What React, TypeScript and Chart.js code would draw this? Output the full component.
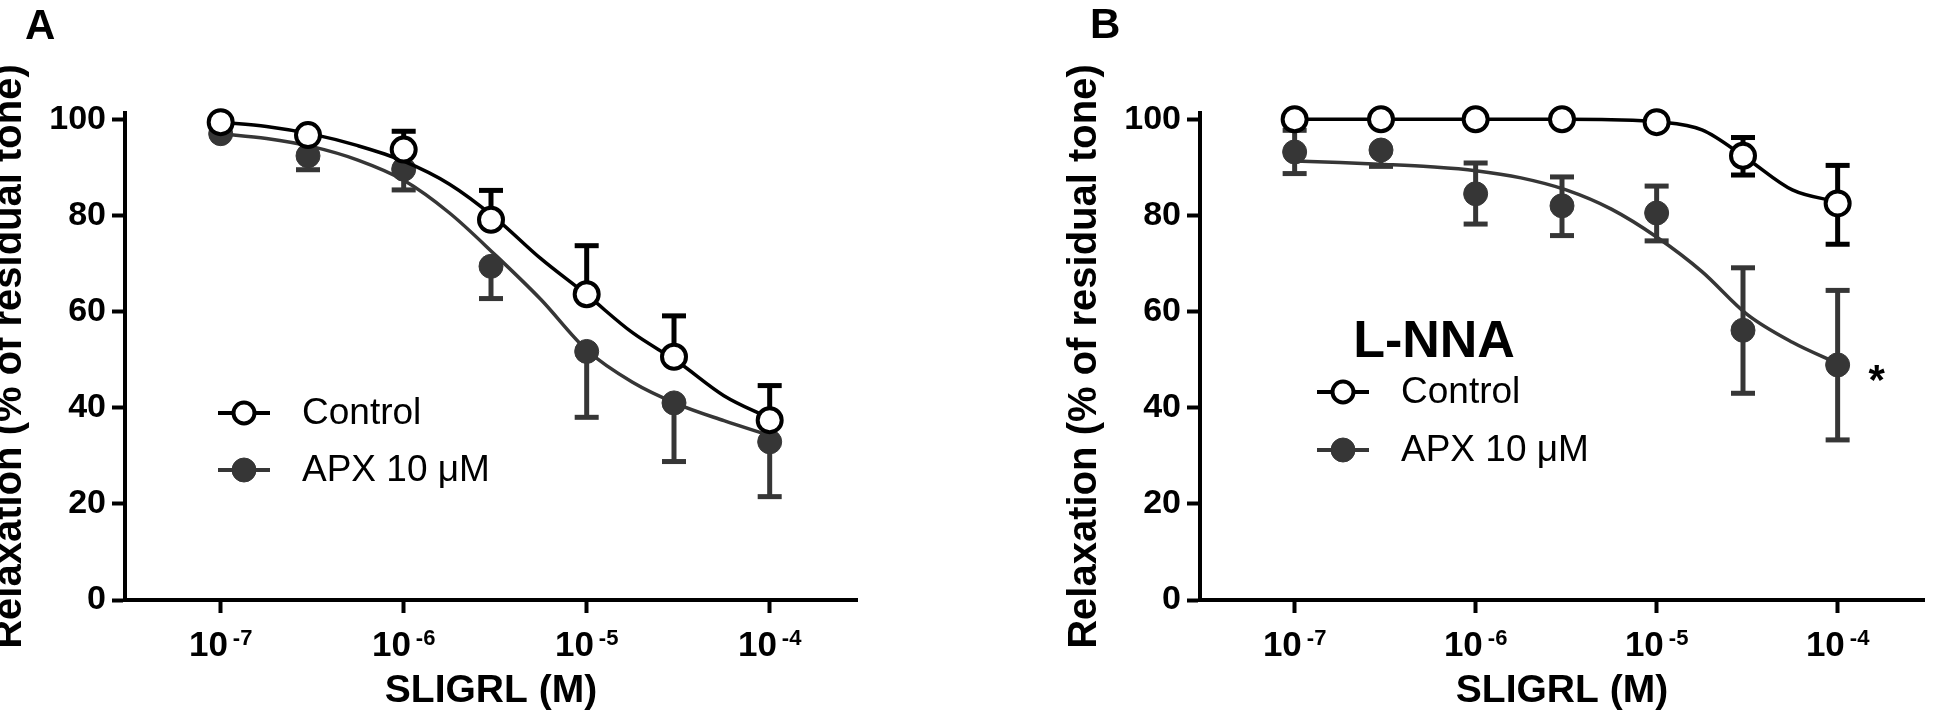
import React, { useEffect, useRef } from "react";
import { Chart, registerables } from "chart.js";

Chart.register(...registerables);

// ---------- data ----------
const DOSES = [1e-7, 3e-7, 1e-6, 3e-6, 1e-5, 3e-5, 1e-4];
const DECADE_TICKS = [1e-7, 1e-6, 1e-5, 1e-4];
const DECADE_EXPONENTS = ["-7", "-6", "-5", "-4"];
const Y_TICKS = [0, 20, 40, 60, 80, 100];
const CURVE_X = [1e-7, 1.78e-7, 3.16e-7, 5.62e-7, 1e-6, 1.78e-6, 3.16e-6, 5.62e-6, 1e-5, 1.78e-5, 3.16e-5, 5.62e-5, 1e-4];

// Panel A
const A_CONTROL = [99.4, 96.7, 93.7, 79.1, 63.6, 50.6, 37.4];
const A_CONTROL_ERR_UP = [0, 0, 3.8, 6.1, 10.1, 8.5, 7.2];
const A_CONTROL_ERR_DOWN = [0, 0, 0, 0, 0, 0, 0];
const A_APX = [97.0, 92.4, 89.6, 69.4, 51.7, 41.0, 32.9];
const A_APX_ERR_UP = [0, 0, 0, 0, 0, 0, 0];
const A_APX_ERR_DOWN = [0, 2.9, 4.3, 6.7, 13.7, 12.2, 11.4];
const A_CONTROL_FIT = [99.4, 98.5, 96.9, 94.5, 91.3, 86.5, 79.5, 71.0, 63.5, 55.6, 49.5, 42.5, 37.8];
const A_APX_FIT = [97.0, 96.0, 94.3, 91.5, 87.3, 80.5, 71.8, 62.5, 52.0, 45.3, 40.7, 37.3, 34.2];

// Panel B (L-NNA)
const B_CONTROL = [100, 100, 100, 100, 99.4, 92.4, 82.5];
const B_CONTROL_ERR_UP = [0, 0, 0, 0, 0, 3.8, 7.9];
const B_CONTROL_ERR_DOWN = [0, 0, 0, 0, 0, 4.0, 8.5];
const B_APX = [93.2, 93.6, 84.5, 82.0, 80.5, 56.1, 48.9];
const B_APX_ERR_UP = [4.5, 0, 6.4, 6.0, 5.6, 13.0, 15.5];
const B_APX_ERR_DOWN = [4.5, 3.4, 6.3, 6.2, 5.8, 13.1, 15.6];
const B_CONTROL_FIT = [100, 100, 100, 100, 100, 100, 100, 99.9, 99.5, 97.8, 91.8, 85.3, 82.8];
const B_APX_FIT = [91.3, 91.0, 90.6, 90.1, 89.3, 87.8, 85.3, 81.3, 75.5, 68.3, 59.4, 53.6, 49.2];

const SERIES_LABELS = ["Control", "APX 10 \u03bcM"];
const FONT = '"Liberation Sans", Arial, Helvetica, sans-serif';
const BLACK = "#000000";
const GREY = "#363636";

type PanelCfg = {
  letter: string;
  letterPos: { x: number; y: number };
  canvasLeft: number;
  width: number;
  padRight: number;
  control: number[];
  controlUp: number[];
  controlDown: number[];
  controlFit: number[];
  apx: number[];
  apxUp: number[];
  apxDown: number[];
  apxFit: number[];
  legend: { dx: number; dy: number; gap: number };
  heading?: { text: string; dx: number; dy: number };
  star?: { index: number; dx: number; dy: number };
};

const PANELS: PanelCfg[] = [
  {
    letter: "A",
    letterPos: { x: 45, y: 39 },
    canvasLeft: -20,
    width: 900,
    padRight: 23,
    control: A_CONTROL,
    controlUp: A_CONTROL_ERR_UP,
    controlDown: A_CONTROL_ERR_DOWN,
    controlFit: A_CONTROL_FIT,
    apx: A_APX,
    apxUp: A_APX_ERR_UP,
    apxDown: A_APX_ERR_DOWN,
    apxFit: A_APX_FIT,
    legend: { dx: 119, dy: 300, gap: 57 },
  },
  {
    letter: "B",
    letterPos: { x: 35, y: 38 },
    canvasLeft: 1055,
    width: 885,
    padRight: 9,
    control: B_CONTROL,
    controlUp: B_CONTROL_ERR_UP,
    controlDown: B_CONTROL_ERR_DOWN,
    controlFit: B_CONTROL_FIT,
    apx: B_APX,
    apxUp: B_APX_ERR_UP,
    apxDown: B_APX_ERR_DOWN,
    apxFit: B_APX_FIT,
    legend: { dx: 143, dy: 279, gap: 58 },
    heading: { text: "L-NNA", dx: 234, dy: 244 },
    star: { index: 6, dx: 39, dy: 10 },
  },
];

function makeConfig(p: PanelCfg): any {
  const pts = (vals: number[]) => DOSES.map((x, i) => ({ x, y: vals[i] }));
  const fit = (vals: number[]) => CURVE_X.map((x, i) => ({ x, y: vals[i] }));

  const errorBars = {
    id: "errorBars",
    beforeDatasetsDraw(chart: any) {
      const { ctx } = chart;
      const xs = chart.scales.x;
      const ys = chart.scales.y;
      const draw = (vals: number[], up: number[], down: number[], color: string) => {
        ctx.save();
        ctx.strokeStyle = color;
        ctx.fillStyle = color;
        ctx.lineWidth = 5;
        DOSES.forEach((d, i) => {
          const px = xs.getPixelForValue(d);
          const py = ys.getPixelForValue(vals[i]);
          const ends: number[] = [];
          if (up[i] > 0) ends.push(vals[i] + up[i]);
          if (down[i] > 0) ends.push(vals[i] - down[i]);
          ends.forEach((v) => {
            const ey = ys.getPixelForValue(v);
            ctx.beginPath();
            ctx.moveTo(px, py);
            ctx.lineTo(px, ey);
            ctx.stroke();
            ctx.fillRect(px - 12, ey - 2.5, 24, 5);
          });
        });
        ctx.restore();
      };
      draw(p.apx, p.apxUp, p.apxDown, GREY);
      draw(p.control, p.controlUp, p.controlDown, BLACK);
    },
  };

  const extras = {
    id: "extras",
    afterDraw(chart: any) {
      const { ctx, chartArea: ca } = chart;
      const xs = chart.scales.x;
      const ys = chart.scales.y;
      ctx.save();
      ctx.fillStyle = BLACK;
      ctx.textBaseline = "alphabetic";
      ctx.textAlign = "left";
      // x tick labels 10^n
      DECADE_TICKS.forEach((v, i) => {
        const px = xs.getPixelForValue(v);
        ctx.font = `bold 35px ${FONT}`;
        const w1 = ctx.measureText("10").width;
        ctx.font = `bold 22px ${FONT}`;
        const w2 = ctx.measureText(DECADE_EXPONENTS[i]).width;
        const gap = 5;
        const x0 = px - (w1 + gap + w2) / 2;
        ctx.font = `bold 35px ${FONT}`;
        ctx.fillText("10", x0, ca.bottom + 56);
        ctx.font = `bold 22px ${FONT}`;
        ctx.fillText(DECADE_EXPONENTS[i], x0 + w1 + gap, ca.bottom + 45);
      });
      // panel letter
      ctx.font = `bold 42px ${FONT}`;
      ctx.fillText(p.letter, p.letterPos.x, p.letterPos.y);
      // heading
      if (p.heading) {
        ctx.font = `bold 52px ${FONT}`;
        ctx.textAlign = "center";
        ctx.fillText(p.heading.text, ca.left + p.heading.dx, ca.top + p.heading.dy);
        ctx.textAlign = "left";
      }
      // legend
      const lx = ca.left + p.legend.dx;
      const rows = [
        { y: ca.top + p.legend.dy, line: BLACK, fill: "#ffffff", stroke: BLACK, r: 10.5, bw: 4 },
        { y: ca.top + p.legend.dy + p.legend.gap, line: GREY, fill: GREY, stroke: GREY, r: 12, bw: 1 },
      ];
      rows.forEach((r, i) => {
        ctx.strokeStyle = r.line;
        ctx.lineWidth = 4;
        ctx.beginPath();
        ctx.moveTo(lx - 26, r.y);
        ctx.lineTo(lx + 26, r.y);
        ctx.stroke();
        ctx.beginPath();
        ctx.arc(lx, r.y, r.r, 0, Math.PI * 2);
        ctx.fillStyle = r.fill;
        ctx.fill();
        ctx.lineWidth = r.bw;
        ctx.strokeStyle = r.stroke;
        ctx.stroke();
        ctx.fillStyle = BLACK;
        ctx.font = `37px ${FONT}`;
        ctx.textBaseline = "middle";
        ctx.fillText(SERIES_LABELS[i], lx + 58, r.y + 1);
        ctx.textBaseline = "alphabetic";
      });
      // significance star
      if (p.star) {
        const sx = xs.getPixelForValue(DOSES[p.star.index]) + p.star.dx;
        const sy = ys.getPixelForValue(p.apx[p.star.index]) + p.star.dy;
        ctx.font = `bold 42px ${FONT}`;
        ctx.textAlign = "center";
        ctx.textBaseline = "middle";
        ctx.fillStyle = BLACK;
        ctx.fillText("*", sx, sy + 8);
      }
      ctx.restore();
    },
  };

  return {
    type: "line",
    data: {
      datasets: [
        {
          label: "Control",
          data: pts(p.control),
          showLine: false,
          pointRadius: 12,
          pointBackgroundColor: "#ffffff",
          pointBorderColor: BLACK,
          pointBorderWidth: 4,
          clip: false,
          order: 0,
        },
        {
          label: "Control fit",
          data: fit(p.controlFit),
          borderColor: BLACK,
          borderWidth: 3.5,
          pointRadius: 0,
          cubicInterpolationMode: "monotone",
          fill: false,
          clip: false,
          order: 1,
        },
        {
          label: "APX",
          data: pts(p.apx),
          showLine: false,
          pointRadius: 12,
          pointBackgroundColor: GREY,
          pointBorderColor: GREY,
          pointBorderWidth: 1,
          clip: false,
          order: 2,
        },
        {
          label: "APX fit",
          data: fit(p.apxFit),
          borderColor: GREY,
          borderWidth: 3.5,
          pointRadius: 0,
          cubicInterpolationMode: "monotone",
          fill: false,
          clip: false,
          order: 3,
        },
      ],
    },
    options: {
      animation: false,
      responsive: false,
      devicePixelRatio: 1,
      layout: { padding: { top: 113, right: p.padRight, bottom: 0, left: 0 } },
      plugins: { legend: { display: false }, tooltip: { enabled: false } },
      scales: {
        x: {
          type: "logarithmic",
          min: 3e-8,
          max: 3e-4,
          afterBuildTicks: (s: any) => {
            s.ticks = DECADE_TICKS.map((v) => ({ value: v }));
          },
          afterFit: (s: any) => {
            s.height = 126;
          },
          ticks: { display: false },
          grid: { drawOnChartArea: false, drawTicks: true, tickLength: 13, tickWidth: 4, tickColor: BLACK },
          border: { display: true, color: BLACK, width: 4 },
          title: {
            display: true,
            text: "SLIGRL (M)",
            color: BLACK,
            font: { family: FONT, size: 39, weight: "bold" },
            padding: { top: 0, bottom: 11 },
          },
        },
        y: {
          type: "linear",
          min: 0,
          max: 101.3,
          afterBuildTicks: (s: any) => {
            s.ticks = Y_TICKS.map((v) => ({ value: v }));
          },
          afterFit: (s: any) => {
            s.width = 145;
          },
          ticks: { color: BLACK, padding: 6, font: { family: FONT, size: 34, weight: "bold" } },
          grid: { drawOnChartArea: false, drawTicks: true, tickLength: 13, tickWidth: 4, tickColor: BLACK },
          border: { display: true, color: BLACK, width: 4 },
          title: {
            display: true,
            text: "Relaxation (% of residual tone)",
            color: BLACK,
            font: { family: FONT, size: 40, weight: "bold" },
            padding: { top: 6, bottom: 0 },
          },
        },
      },
    },
    plugins: [errorBars, extras],
  };
}

function Panel({ cfg }: { cfg: PanelCfg }) {
  const ref = useRef<HTMLCanvasElement | null>(null);
  useEffect(() => {
    if (!ref.current) return;
    const chart = new Chart(ref.current, makeConfig(cfg));
    return () => chart.destroy();
  }, [cfg]);
  return (
    <canvas
      ref={ref}
      width={cfg.width}
      height={726}
      style={{ position: "absolute", left: cfg.canvasLeft, top: 0, width: cfg.width, height: 726 }}
    />
  );
}

export default function App() {
  return (
    <div
      style={{
        position: "absolute",
        left: 0,
        top: 0,
        width: 1940,
        height: 726,
        overflow: "hidden",
        background: "#ffffff",
      }}
    >
      {PANELS.map((p) => (
        <Panel key={p.letter} cfg={p} />
      ))}
    </div>
  );
}
